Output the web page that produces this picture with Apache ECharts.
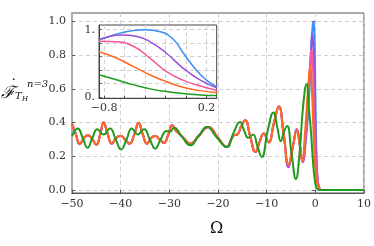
<!DOCTYPE html>
<html><head><meta charset="utf-8">
<script src="https://cdn.jsdelivr.net/npm/echarts@6/dist/echarts.min.js"></script>
<style>html,body{margin:0;padding:0;background:#fff}#c{width:374px;height:246px}</style>
</head><body><div id="c"></div>
<script>
// ---- data ----
const xTicks = [-50, -40, -30, -20, -10, 0, 10];
const yTicks = [0, 0.2, 0.4, 0.6, 0.8, 1.0];
const insetXTicks = [-0.8, -0.6, -0.4, -0.2, 0, 0.2];
const insetXLabels = [-0.8, 0.2];
const insetYTicks = [0, 0.2, 0.4, 0.6, 0.8, 1.0];
const insetYLabels = [0, 1];

// shared far region (blue, purple, pink coincide with orange here)
const farOmega = [-50, -49.2, -48.4, -47.5, -46.7, -45.8, -45.0, -44.2, -43.5, -42.7, -41.8, -40.9, -40.0, -39.1, -38.2, -37.2, -36.3, -35.5, -34.6, -33.7, -32.9, -32.0, -31.1, -30.2, -29.4, -28.6, -27.8, -26.8, -25.7, -24.0, -22.0, -20.0, -18.2, -17.3, -16.7, -16.0, -15.2, -14.4, -13.4, -12.3, -11.4, -10.6, -9.6, -8.5, -7.5, -6.5];
const farValue = [0.394, 0.33, 0.272, 0.31, 0.325, 0.30, 0.27, 0.33, 0.40, 0.335, 0.275, 0.31, 0.32, 0.30, 0.275, 0.33, 0.398, 0.335, 0.275, 0.31, 0.32, 0.30, 0.28, 0.33, 0.385, 0.35, 0.33, 0.30, 0.275, 0.32, 0.374, 0.31, 0.255, 0.30, 0.325, 0.33, 0.38, 0.414, 0.32, 0.226, 0.29, 0.335, 0.283, 0.40, 0.495, 0.33];

const orangeNearOmega = [-5.5, -4.6, -3.8, -3.2, -2.7, -2.1, -1.5, -1.0, -0.85, -0.68, -0.51, -0.35, -0.19, -0.03, 0.14, 0.28, 0.5, 0.8, 1.2, 10];
const orangeNearValue = [0.155, 0.26, 0.353, 0.27, 0.175, 0.35, 0.60, 0.73, 0.68, 0.58, 0.45, 0.33, 0.23, 0.145, 0.094, 0.065, 0.03, 0.008, 0, 0];

const purpleNearOmega = [-5.5, -4.6, -3.8, -3.2, -2.6, -2.0, -1.4, -0.95, -0.84, -0.63, -0.48, -0.35, -0.19, -0.03, 0.14, 0.28, 0.5, 0.8, 1.2, 10];
const purpleNearValue = [0.135, 0.26, 0.36, 0.27, 0.165, 0.30, 0.55, 0.79, 0.847, 0.92, 0.90, 0.82, 0.65, 0.43, 0.25, 0.144, 0.06, 0.015, 0, 0];

const pinkNearOmega = [-5.5, -4.6, -3.8, -3.2, -2.65, -2.0, -1.4, -1.0, -0.84, -0.68, -0.51, -0.35, -0.19, -0.03, 0.14, 0.28, 0.5, 0.8, 1.2, 10];
const pinkNearValue = [0.145, 0.26, 0.357, 0.27, 0.17, 0.33, 0.60, 0.78, 0.83, 0.82, 0.75, 0.575, 0.376, 0.25, 0.163, 0.104, 0.05, 0.012, 0, 0];

const blueNearOmega = [-5.5, -4.6, -3.8, -3.2, -2.6, -2.0, -1.4, -1.0, -0.84, -0.6, -0.40, -0.25, -0.12, -0.03, 0.1, 0.2, 0.28, 0.5, 0.8, 1.2, 10];
const blueNearValue = [0.14, 0.26, 0.36, 0.27, 0.17, 0.28, 0.50, 0.72, 0.847, 0.96, 1.0, 0.97, 0.85, 0.66, 0.40, 0.25, 0.163, 0.05, 0.01, 0, 0];

const greenOmega = [-50, -48.8, -47.8, -46.8, -45.8, -44.8, -43.5, -42.2, -41.0, -39.9, -38.8, -37.7, -36.5, -35.2, -34.0, -32.9, -31.8, -30.6, -29.9, -29.0, -27.5, -25.7, -24.0, -22.3, -20.2, -18.2, -16.8, -15.5, -14.6, -13.8, -12.8, -11.9, -11.0, -9.8, -8.6, -7.8, -7.1, -6.4, -5.8, -4.9, -4.0, -3.3, -2.5, -1.8, -1.3, -0.85, -0.68, -0.51, -0.35, -0.19, -0.03, 0.14, 0.28, 0.6, 1.0, 10];
const greenValue = [0.32, 0.365, 0.31, 0.25, 0.31, 0.36, 0.33, 0.365, 0.30, 0.24, 0.30, 0.365, 0.33, 0.36, 0.30, 0.245, 0.30, 0.35, 0.345, 0.37, 0.32, 0.265, 0.32, 0.374, 0.31, 0.255, 0.34, 0.404, 0.35, 0.31, 0.33, 0.26, 0.196, 0.35, 0.46, 0.37, 0.29, 0.35, 0.38, 0.22, 0.065, 0.20, 0.50, 0.63, 0.48, 0.33, 0.25, 0.18, 0.12, 0.08, 0.045, 0.02, 0.01, 0.002, 0, 0];

// inset
const insetBlueOmega = [-0.85, -0.75, -0.62, -0.50, -0.40, -0.25, -0.12, -0.03, 0.10, 0.20, 0.30];
const insetBlueValue = [0.85, 0.90, 0.96, 0.99, 1.0, 0.97, 0.85, 0.66, 0.40, 0.25, 0.15];
const insetPurpleOmega = [-0.85, -0.75, -0.63, -0.48, -0.35, -0.19, -0.03, 0.14, 0.30];
const insetPurpleValue = [0.85, 0.90, 0.92, 0.90, 0.82, 0.65, 0.43, 0.25, 0.135];
const insetPinkOmega = [-0.85, -0.68, -0.51, -0.35, -0.19, -0.03, 0.14, 0.30];
const insetPinkValue = [0.83, 0.82, 0.75, 0.575, 0.376, 0.25, 0.163, 0.10];
const insetOrangeOmega = [-0.85, -0.68, -0.51, -0.35, -0.19, -0.03, 0.14, 0.30];
const insetOrangeValue = [0.673, 0.58, 0.45, 0.327, 0.227, 0.144, 0.094, 0.065];
const insetGreenOmega = [-0.85, -0.68, -0.51, -0.35, -0.19, -0.03, 0.14, 0.30];
const insetGreenValue = [0.33, 0.255, 0.18, 0.12, 0.08, 0.05, 0.03, 0.02];

const colors = {blue:'#3a8ef6', purple:'#9a50d8', pink:'#f5569b', orange:'#fc6b1f', green:'#1e9a1e'};

// ---- build ----
const zip = (xs, ys) => xs.map((x, i) => [x, ys[i]]);
const withFar = (xs, ys) => zip(farOmega, farValue).concat(zip(xs, ys));
const FONT = '"DejaVu Serif", "Liberation Serif", serif';
const minus = v => (v < 0 ? '\u2212' + Math.abs(v) : '' + v);
const dashed = {show:true, lineStyle:{color:'#cfcfcf', width:1, type:[4,3]}};

function mainLine(name, data, color) {
  return {name, type:'line', xAxisIndex:0, yAxisIndex:0, data, smooth:0.5,
    showSymbol:false, symbol:'none', lineStyle:{color, width:2}, z:3, silent:true, animation:false};
}
function insetLine(name, data, color) {
  return {name, type:'line', xAxisIndex:2, yAxisIndex:2, data, smooth:0.5,
    showSymbol:false, symbol:'none', lineStyle:{color, width:1.5}, z:12, silent:true, animation:false};
}

const option = {
  animation:false,
  grid:[
    {left:72, right:10, top:13, bottom:53, show:true, borderColor:'#555', borderWidth:1, backgroundColor:'transparent'},
    {left:99, top:25, width:117.7, height:73.3, show:true, borderColor:'#444', borderWidth:1, backgroundColor:'#fff', z:10}
  ],
  xAxis:[
    {type:'value', gridIndex:0, min:-50, max:10, interval:10,
      axisLine:{show:true, onZero:false, lineStyle:{color:'#555', width:1}},
      axisTick:{show:true, inside:true, length:3, lineStyle:{color:'#555'}},
      axisLabel:{fontFamily:FONT, fontSize:11, color:'#333', margin:6, formatter:minus},
      splitLine:dashed},
    {type:'value', gridIndex:0, position:'top', min:-50, max:10, interval:10,
      axisLine:{show:false}, axisTick:{show:true, inside:true, length:3, lineStyle:{color:'#555'}},
      axisLabel:{show:false}, splitLine:{show:false}},
    {type:'value', gridIndex:1, min:-0.85, max:0.3, z:11,
      axisLine:{show:true, onZero:false, lineStyle:{color:'#444'}},
      axisTick:{show:true, inside:true, length:2.5, customValues:insetXTicks, lineStyle:{color:'#444'}},
      axisLabel:{fontFamily:FONT, fontSize:11, color:'#333', margin:4, customValues:insetXLabels, formatter:minus},
      splitLine:dashed}
  ],
  yAxis:[
    {type:'value', gridIndex:0, min:-0.018, max:1.051,
      axisLine:{show:true, onZero:false, lineStyle:{color:'#aaa', width:2}},
      axisTick:{show:true, inside:true, length:3, customValues:yTicks, lineStyle:{color:'#555'}},
      axisLabel:{fontFamily:FONT, fontSize:11, color:'#333', margin:6, customValues:yTicks, formatter:v => v.toFixed(1)},
      splitLine:dashed},
    {type:'value', gridIndex:0, position:'right', min:-0.018, max:1.051,
      axisLine:{show:false}, axisTick:{show:true, inside:true, length:3, customValues:yTicks, lineStyle:{color:'#555'}},
      axisLabel:{show:false}, splitLine:{show:false}},
    {type:'value', gridIndex:1, min:-0.02, max:1.07, z:11,
      axisLine:{show:true, onZero:false, lineStyle:{color:'#444'}},
      axisTick:{show:true, inside:true, length:2.5, customValues:insetYTicks, lineStyle:{color:'#444'}},
      axisLabel:{fontFamily:FONT, fontSize:11, color:'#333', margin:4, customValues:insetYLabels, formatter:v => (v === 0 ? '0.' : '1.')},
      splitLine:dashed}
  ],
  series:[
    mainLine('blue', withFar(blueNearOmega, blueNearValue), colors.blue),
    mainLine('purple', withFar(purpleNearOmega, purpleNearValue), colors.purple),
    mainLine('pink', withFar(pinkNearOmega, pinkNearValue), colors.pink),
    mainLine('orange', withFar(orangeNearOmega, orangeNearValue), colors.orange),
    mainLine('green', zip(greenOmega, greenValue), colors.green),
    insetLine('blue', zip(insetBlueOmega, insetBlueValue), colors.blue),
    insetLine('purple', zip(insetPurpleOmega, insetPurpleValue), colors.purple),
    insetLine('pink', zip(insetPinkOmega, insetPinkValue), colors.pink),
    insetLine('orange', zip(insetOrangeOmega, insetOrangeValue), colors.orange),
    insetLine('green', zip(insetGreenOmega, insetGreenValue), colors.green)
  ],
  graphic:[
    {type:'text', left:1, top:85, style:{text:'\u2131', font:'italic 17px ' + FONT, fill:'#111'}},
    {type:'text', left:10, top:79, style:{text:'\u02D9', font:'15px ' + FONT, fill:'#111'}},
    {type:'text', left:15, top:91, style:{text:'T', font:'italic 10px ' + FONT, fill:'#111'}},
    {type:'text', left:22, top:96, style:{text:'H', font:'italic 7px ' + FONT, fill:'#111'}},
    {type:'text', left:27, top:79, style:{text:'n=3', font:'italic 10px ' + FONT, fill:'#111'}},
    {type:'text', left:210, top:221, style:{text:'\u03A9', font:'16px ' + FONT, fill:'#111'}}
  ]
};
const chart = echarts.init(document.getElementById('c'), null, {renderer:'canvas'});
chart.setOption(option);
</script></body></html>
